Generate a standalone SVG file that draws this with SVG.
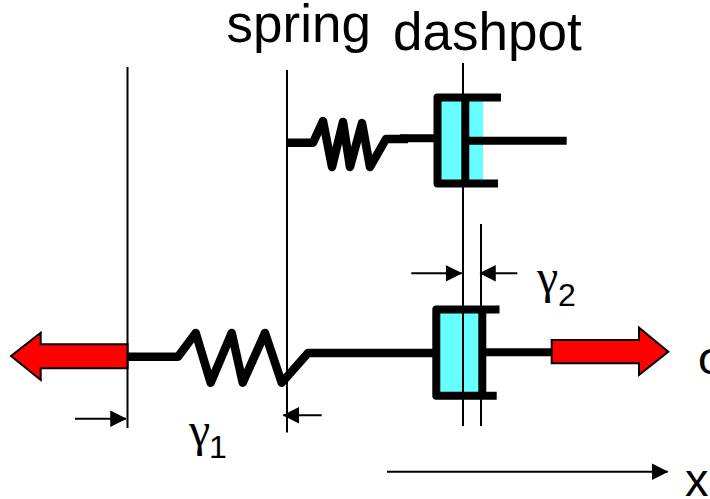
<svg xmlns="http://www.w3.org/2000/svg" width="710" height="499" viewBox="0 0 710 499">
<style>
.t{font-family:"Liberation Sans",Arial,sans-serif;fill:#000}
.g{font-family:"Liberation Serif","Times New Roman",serif;fill:#000}
.thin{fill:none;stroke:#000;stroke-width:2}
.thick{fill:none;stroke:#000;stroke-width:8;stroke-linejoin:round}
.sp{fill:none;stroke:#000;stroke-width:8.500;stroke-linejoin:round}
.cy{fill:#66ffff}
.red{fill:#ff0000;stroke:#000;stroke-width:2}
</style>
<defs><marker id="a" markerUnits="userSpaceOnUse" markerWidth="20" markerHeight="20" refX="17" refY="10" orient="auto"><path d="M2 3L16 10L2 17Z" fill="#000" stroke="#000" stroke-width="1.500"/></marker></defs>
<rect width="710" height="499" fill="#fff"/>
<g id="dashpot-top">
<rect class="cy" x="441" y="101" width="42" height="79"/>
<path class="thick" d="M501 97.500H437.500V183.500H498"/>
<path class="thick" d="M465.300 97.500V183.500"/>
</g>
<g id="dashpot-bottom">
<rect class="cy" x="440" y="313" width="39" height="79"/>
<path class="thick" d="M499.500 309.500H436.300V395.700H496.700"/>
<path class="thick" d="M482.300 309.500V395.700"/>
</g>
<g id="connectors">
<path class="thin" d="M127.500 67V428M287 70V432.500M463 63V426M481 224V426"/>
<path class="sp" d="M287 142.700H313L323 121L332 167L343 122L350 167L362 123L370 167L386 139H408"/>
<path class="thick" d="M400 138.300H434"/>
<path class="thick" d="M469 140.700H566.700"/>
<path class="sp" d="M127.500 356.700H178L195.700 333L210.700 382.700L231.700 333L242.700 382.700L265 333L281.700 382.700L308 353H436"/>
<path class="thick" d="M486 352.300H552"/>
<path class="thin" marker-end="url(#a)" d="M75 418.700H126"/>
<path class="thin" marker-end="url(#a)" d="M321.700 415.300H283.300"/>
<path class="thin" marker-end="url(#a)" d="M411.300 273.300H461.700"/>
<path class="thin" marker-end="url(#a)" d="M517.300 273.300H480"/>
<path class="thin" marker-end="url(#a)" d="M387 471.700H667.700"/>
</g>
<g id="force-left"><path class="red" d="M127.500 344.300H40.700V332.700L11 356L40.700 380V368.300H127.500Z"/></g>
<g id="force-right"><path class="red" d="M551.700 340H639V327.700L668.300 351.700L639 375V363.300H551.700Z"/></g>
<g id="labels">
<text class="t" x="226.500" y="42" font-size="53">spring</text>
<text class="t" x="393" y="50" font-size="53">dashpot</text>
<text class="g" x="189" y="445.500" font-size="48">γ</text>
<text class="t" x="209" y="458" font-size="32">1</text>
<text class="g" x="537" y="292.500" font-size="48">γ</text>
<text class="t" x="558" y="306" font-size="32">2</text>
<text class="t" x="698" y="374" font-size="46">σ</text>
<text class="t" x="685" y="495.700" font-size="47">x</text>
</g>
</svg>
